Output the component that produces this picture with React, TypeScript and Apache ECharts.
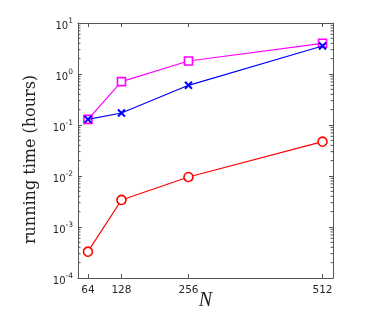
import React, { useEffect, useRef } from "react";
import * as echarts from "echarts";

const nValues = [64, 128, 256, 512];
const magentaSeries = [0.129, 0.71, 1.8, 4.0];
const blueSeries = [0.129, 0.172, 0.6, 3.54];
const redSeries = [0.000328, 0.00339, 0.00955, 0.0471];
const X_MIN = 45;
const X_MAX = 532;
const Y_MIN = 1e-4;
const Y_MAX = 10;
const minorMultipliers = [2, 3, 4, 5, 6, 7, 8, 9];
const decades = [1e-4, 1e-3, 1e-2, 1e-1, 1];

export default function App() {
  const ref = useRef<HTMLDivElement>(null);
  useEffect(() => {
    if (!ref.current) return;
    const chart = echarts.init(ref.current, null, { renderer: "svg" });
    const minorVals: number[] = [];
    decades.forEach((d) => minorMultipliers.forEach((m) => minorVals.push(d * m)));
    const axisColor = "#555";
    const labelColor = "#262626";
    const yLabelFmt = (v: number) => {
      const e = Math.round(Math.log10(v));
      return `{b|10}{s|${e}}`;
    };
    const mk = (data: number[]) => nValues.map((n, i) => [n, data[i]]);
    chart.setOption({
      animation: false,
      grid: { left: 78, top: 23, width: 255, height: 255, containLabel: false, outerBoundsMode: "none" },
      xAxis: [
        {
          type: "value",
          min: X_MIN,
          max: X_MAX,
          name: "N",
          nameLocation: "middle",
          nameGap: 11,
          nameMoveOverlap: false,
          nameTextStyle: { fontFamily: "Liberation Serif", fontStyle: "italic", fontSize: 20, color: "#222", lineHeight: 20 },
          axisLine: { show: true, lineStyle: { color: axisColor, width: 1 } },
          axisTick: { show: true, inside: true, length: 4, customValues: nValues, lineStyle: { color: axisColor } },
          axisLabel: {
            customValues: nValues,
            margin: 5,
            fontFamily: "DejaVu Sans",
            fontSize: 10.5,
            color: labelColor,
          },
          splitLine: { show: false },
        },
        {
          type: "value",
          position: "top",
          min: X_MIN,
          max: X_MAX,
          axisLine: { show: true, lineStyle: { color: axisColor, width: 1 } },
          axisTick: { show: true, inside: true, length: 4, customValues: nValues, lineStyle: { color: axisColor } },
          axisLabel: { show: false },
          splitLine: { show: false },
        },
      ],
      yAxis: [
        {
          type: "log",
          logBase: 10,
          min: Y_MIN,
          max: Y_MAX,
          name: "running time (hours)",
          nameLocation: "middle",
          nameGap: 41,
          nameMoveOverlap: false,
          nameTextStyle: { fontFamily: "DejaVu Serif", fontSize: 16, color: "#222", padding: [0, 18, 0, 0] },
          axisLine: { show: true, lineStyle: { color: axisColor, width: 1 } },
          axisTick: { show: true, inside: true, length: 4, lineStyle: { color: axisColor } },
          axisLabel: {
            formatter: yLabelFmt,
            margin: 5,
            color: labelColor,
            rich: {
              b: { fontFamily: "DejaVu Sans", fontSize: 10, color: labelColor, verticalAlign: "bottom", lineHeight: 14 },
              s: { fontFamily: "DejaVu Sans", fontSize: 7.5, color: labelColor, verticalAlign: "top", lineHeight: 14 },
            },
          },
          splitLine: { show: false },
          minorTick: { show: false },
        },
        {
          type: "log",
          logBase: 10,
          position: "right",
          min: Y_MIN,
          max: Y_MAX,
          axisLine: { show: true, lineStyle: { color: axisColor, width: 1 } },
          axisTick: { show: true, inside: true, length: 4, lineStyle: { color: axisColor } },
          axisLabel: { show: false },
          splitLine: { show: false },
        },
      ],
      series: [
        {
          type: "custom",
          xAxisIndex: 0,
          yAxisIndex: 0,
          silent: true,
          clip: false,
          data: minorVals.map((v) => [X_MIN, v]),
          renderItem: (params: any, api: any) => {
            const p = api.coord([X_MIN, api.value(1)]);
            const cs = params.coordSys;
            const left = cs.x;
            const right = cs.x + cs.width;
            const style = { stroke: axisColor, lineWidth: 1 };
            return {
              type: "group",
              children: [
                { type: "line", shape: { x1: left, y1: p[1], x2: left + 2.5, y2: p[1] }, style },
                { type: "line", shape: { x1: right, y1: p[1], x2: right - 2.5, y2: p[1] }, style },
              ],
            };
          },
          z: 1,
        },
        {
          type: "line",
          data: mk(magentaSeries),
          symbol: "rect",
          symbolSize: 8,
          itemStyle: { color: "#fff", borderColor: "#ff00ff", borderWidth: 1.6 },
          lineStyle: { color: "#ff00ff", width: 1.2 },
          z: 3,
        },
        {
          type: "line",
          data: mk(blueSeries),
          symbol: "path://M0,0L10,10M10,0L0,10",
          symbolSize: 7,
          symbolKeepAspect: true,
          itemStyle: { color: "none", borderColor: "#0000ff", borderWidth: 2 },
          lineStyle: { color: "#0000ff", width: 1.2 },
          z: 4,
        },
        {
          type: "line",
          data: mk(redSeries),
          symbol: "circle",
          symbolSize: 9,
          itemStyle: { color: "#fff", borderColor: "#ff0000", borderWidth: 1.6 },
          lineStyle: { color: "#ff0000", width: 1.2 },
          z: 3,
        },
      ],
    });
    return () => chart.dispose();
  }, []);
  return <div ref={ref} style={{ position: "fixed", left: 0, top: 0, width: 374, height: 316 }} />;
}
